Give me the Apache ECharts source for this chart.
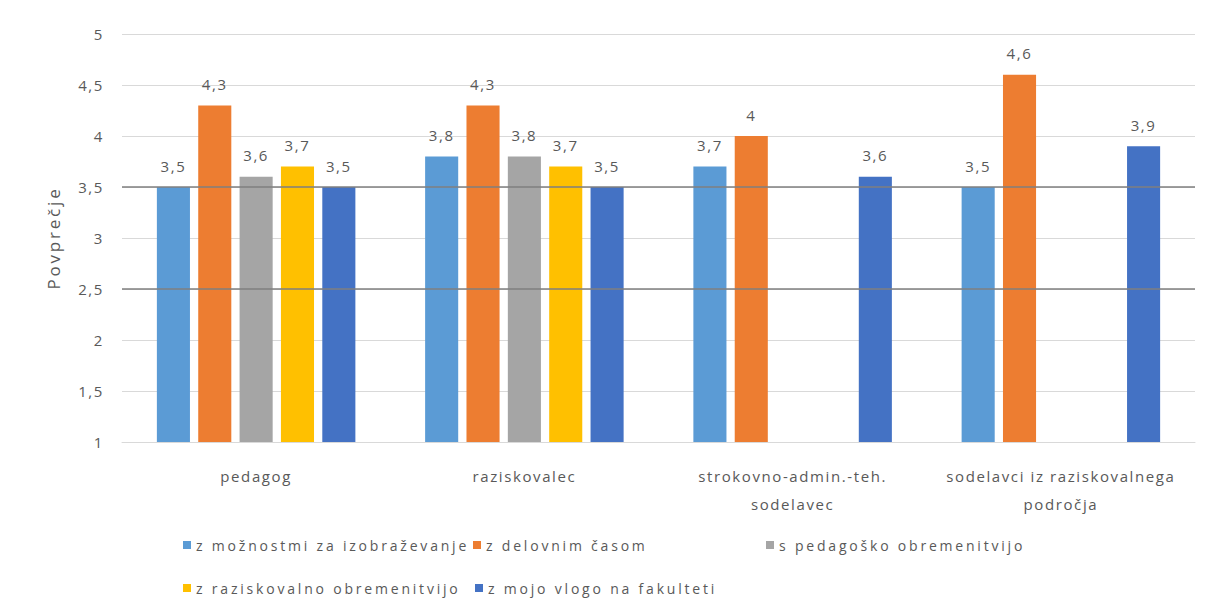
<!DOCTYPE html>
<html><head><meta charset="utf-8">
<script src="https://cdn.jsdelivr.net/npm/echarts@6/dist/echarts.min.js"></script>
<style>
html,body{margin:0;padding:0;background:#fff}
#c{width:1205px;height:610px}
#c svg text{letter-spacing:1.6px}
#c svg text[style*="14px"]{letter-spacing:2.8px}
#c svg text[style*="17px"]{letter-spacing:2.8px}
</style>
</head><body><div id="c"></div>
<script>
const categories = ['pedagog', 'raziskovalec', 'strokovno-admin.-teh.\nsodelavec', 'sodelavci iz raziskovalnega\npodročja'];
const seriesNames = ['z možnostmi za izobraževanje', 'z delovnim časom', 's pedagoško obremenitvijo', 'z raziskovalno obremenitvijo', 'z mojo vlogo na fakulteti'];
const sMoznosti = [3.5, 3.8, 3.7, 3.5];
const sDelovni = [4.3, 4.3, 4.0, 4.6];
const sPedagosko = [3.6, 3.8, null, null];
const sRaziskovalno = [3.7, 3.7, null, null];
const sVloga = [3.5, 3.5, 3.6, 3.9];
const refLines = [3.5, 2.5];
const colors = ['#5B9BD5', '#ED7D31', '#A5A5A5', '#FFC000', '#4472C4'];
const values = [sMoznosti, sDelovni, sPedagosko, sRaziskovalno, sVloga];

const FONT = 'Open Sans';
const TXT = '#595959';
const fmt = v => String(v).replace('.', ',');

const series = seriesNames.map((n, i) => ({
  name: n, type: 'bar', data: values[i],
  barGap: '25%', barCategoryGap: '26%',
  itemStyle: { color: colors[i] },
  label: { show: true, position: 'top', distance: 14, color: TXT, fontFamily: FONT, fontSize: 15,
    formatter: p => p.value == null ? '' : fmt(p.value) }
}));
series[0].markLine = {
  silent: true, symbol: 'none', z: 10,
  label: { show: false },
  lineStyle: { color: '#7f7f7f', width: 1.5, type: 'solid' },
  data: refLines.map(v => ({ yAxis: v }))
};

const legendPos = [
  { left: 183, top: 538 }, { left: 473, top: 538 }, { left: 766, top: 538 },
  { left: 183, top: 581 }, { left: 475, top: 581 }
];
const legends = seriesNames.map((n, i) => ({
  data: [n], left: legendPos[i].left, top: legendPos[i].top, padding: 0,
  itemWidth: 8, itemHeight: 8, itemGap: 4, icon: 'rect',
  textStyle: { color: TXT, fontFamily: FONT, fontSize: 14 },
  selectedMode: false
}));

const chart = echarts.init(document.getElementById('c'), null, { renderer: 'svg' });
chart.setOption({
  animation: false,
  color: colors,
  legend: legends,
  grid: { left: 122, right: 10, top: 34, bottom: 168 },
  xAxis: {
    type: 'category', data: categories,
    axisTick: { show: false },
    axisLine: { lineStyle: { color: '#d9d9d9' } },
    axisLabel: { color: TXT, fontFamily: FONT, fontSize: 15, margin: 20, lineHeight: 28, interval: 0 }
  },
  yAxis: {
    type: 'value', min: 1, max: 5, interval: 0.5,
    name: 'Povprečje', nameLocation: 'middle', nameGap: 60, nameRotate: 90,
    nameTextStyle: { color: TXT, fontFamily: FONT, fontSize: 17 },
    axisLabel: { color: TXT, fontFamily: FONT, fontSize: 15, margin: 18, formatter: v => fmt(v) },
    splitLine: { lineStyle: { color: '#d9d9d9' } },
    axisLine: { show: false }, axisTick: { show: false }
  },
  series: series
});
</script></body></html>
